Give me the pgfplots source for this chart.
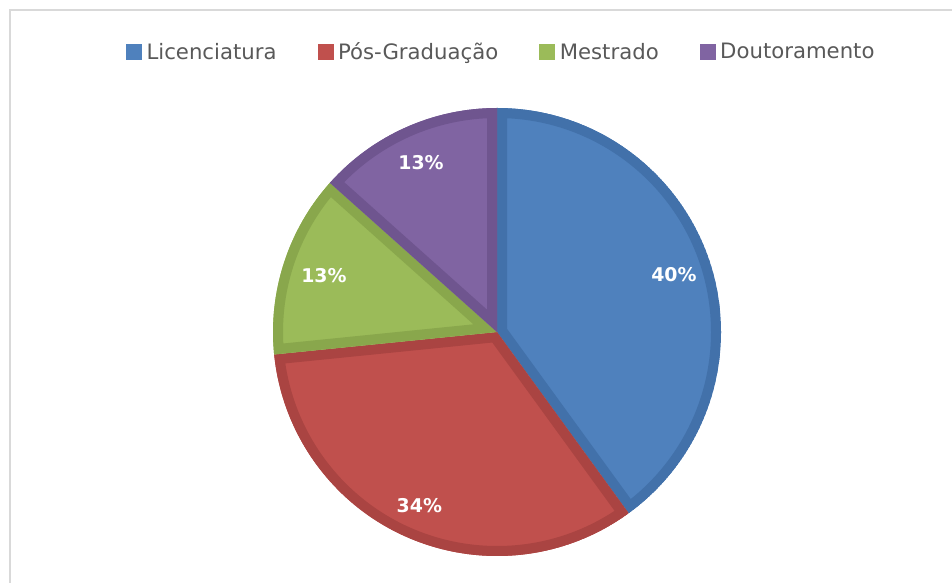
\documentclass[border=0pt]{standalone}
\usepackage{fontspec}
\setmainfont{DejaVu Sans}
\usepackage{pgfplots}
\usepackage{pgfplotstable}
\pgfplotsset{compat=1.18}
\definecolor{licF}{RGB}{79,129,189}
\definecolor{licB}{RGB}{66,113,170}
\definecolor{posF}{RGB}{192,80,77}
\definecolor{posB}{RGB}{170,68,66}
\definecolor{mesF}{RGB}{155,187,89}
\definecolor{mesB}{RGB}{137,167,76}
\definecolor{douF}{RGB}{128,100,162}
\definecolor{douB}{RGB}{111,85,143}
\definecolor{legtext}{RGB}{89,89,89}
\definecolor{frame}{RGB}{217,217,217}

% value: share of the pie; pct: printed label
\pgfplotstableread{
label value pct
Licenciatura 40.0 40
PosGraduacao 33.4 34
Mestrado 13.2 13
Doutoramento 13.4 13
}\piedata

\newcommand\pieslice[4]{%
  \begin{scope}
    \clip (axis cs:497,251) -- ++(#1:224bp) arc[start angle=#1,end angle=#2,radius=224bp] -- cycle;
    \fill[#3] (axis cs:497,251) -- ++(#1:224bp) arc[start angle=#1,end angle=#2,radius=224bp] -- cycle;
    \draw[#4, line width=20bp, line join=round] (axis cs:497,251) -- ++(#1:224bp) arc[start angle=#1,end angle=#2,radius=224bp] -- cycle;
  \end{scope}}

\begin{document}
\begin{tikzpicture}
\pgfplotstablegetelem{0}{value}\of\piedata \edef\vA{\pgfplotsretval}
\pgfplotstablegetelem{1}{value}\of\piedata \edef\vB{\pgfplotsretval}
\pgfplotstablegetelem{2}{value}\of\piedata \edef\vC{\pgfplotsretval}
\pgfplotstablegetelem{3}{value}\of\piedata \edef\vD{\pgfplotsretval}
\pgfplotstablegetelem{0}{pct}\of\piedata \edef\pA{\pgfplotsretval}
\pgfplotstablegetelem{1}{pct}\of\piedata \edef\pB{\pgfplotsretval}
\pgfplotstablegetelem{2}{pct}\of\piedata \edef\pC{\pgfplotsretval}
\pgfplotstablegetelem{3}{pct}\of\piedata \edef\pD{\pgfplotsretval}
\pgfmathsetmacro\tot{\vA+\vB+\vC+\vD}
\pgfmathsetmacro\aA{90}
\pgfmathsetmacro\aB{\aA-360*\vA/\tot}
\pgfmathsetmacro\aC{\aB-360*\vB/\tot}
\pgfmathsetmacro\aD{\aC-360*\vC/\tot}
\pgfmathsetmacro\aE{\aD-360*\vD/\tot}
\pgfmathsetmacro\mA{(\aA+\aB)/2}
\pgfmathsetmacro\mB{(\aB+\aC)/2}
\pgfmathsetmacro\mC{(\aC+\aD)/2}
\pgfmathsetmacro\mD{(\aD+\aE)/2}
\useasboundingbox (0,0) rectangle (952bp,583bp);
\begin{axis}[
  width=952bp, height=583bp, scale only axis,
  xmin=0, xmax=952, ymin=0, ymax=583,
  hide axis, clip=false,
  legend columns=4,
  legend style={draw=none, fill=none, at={(0.5279,0.9108)}, anchor=center,
    font=\fontsize{21.3}{25}\selectfont, text=legtext,
    nodes={inner xsep=4.5bp, inner ysep=0bp},
    /tikz/every even column/.append style={column sep=36.5bp}},
]
\addlegendimage{fill=licF, draw=none, legend image code/.code={\fill (0bp,-8bp) rectangle (16bp,8bp);}}
\addlegendentry{Licenciatura}
\addlegendimage{fill=posF, draw=none, legend image code/.code={\fill (0bp,-8bp) rectangle (16bp,8bp);}}
\addlegendentry{Pós-Graduação}
\addlegendimage{fill=mesF, draw=none, legend image code/.code={\fill (0bp,-8bp) rectangle (16bp,8bp);}}
\addlegendentry{Mestrado}
\addlegendimage{fill=douF, draw=none, legend image code/.code={\fill (0bp,-8bp) rectangle (16bp,8bp);}}
\addlegendentry{Doutoramento}

\draw[frame, line width=2bp] (axis cs:10,0) -- (axis cs:10,573) -- (axis cs:952,573);

\pgfplotsextra{%
  \pieslice{\aA}{\aB}{licF}{licB}
  \pieslice{\aB}{\aC}{posF}{posB}
  \pieslice{\aC}{\aD}{mesF}{mesB}
  \pieslice{\aD}{\aE}{douF}{douB}
  \path[font=\bfseries\fontsize{19}{22}\selectfont, text=white]
    (axis cs:497,251) ++(\mA:186bp) node {\pA\%}
    (axis cs:497,251) ++(\mB:190bp) node {\pB\%}
    (axis cs:497,251) ++(\mC:182bp) node {\pC\%}
    (axis cs:497,251) ++(\mD:186bp) node {\pD\%};
}
\end{axis}
\end{tikzpicture}
\end{document}
